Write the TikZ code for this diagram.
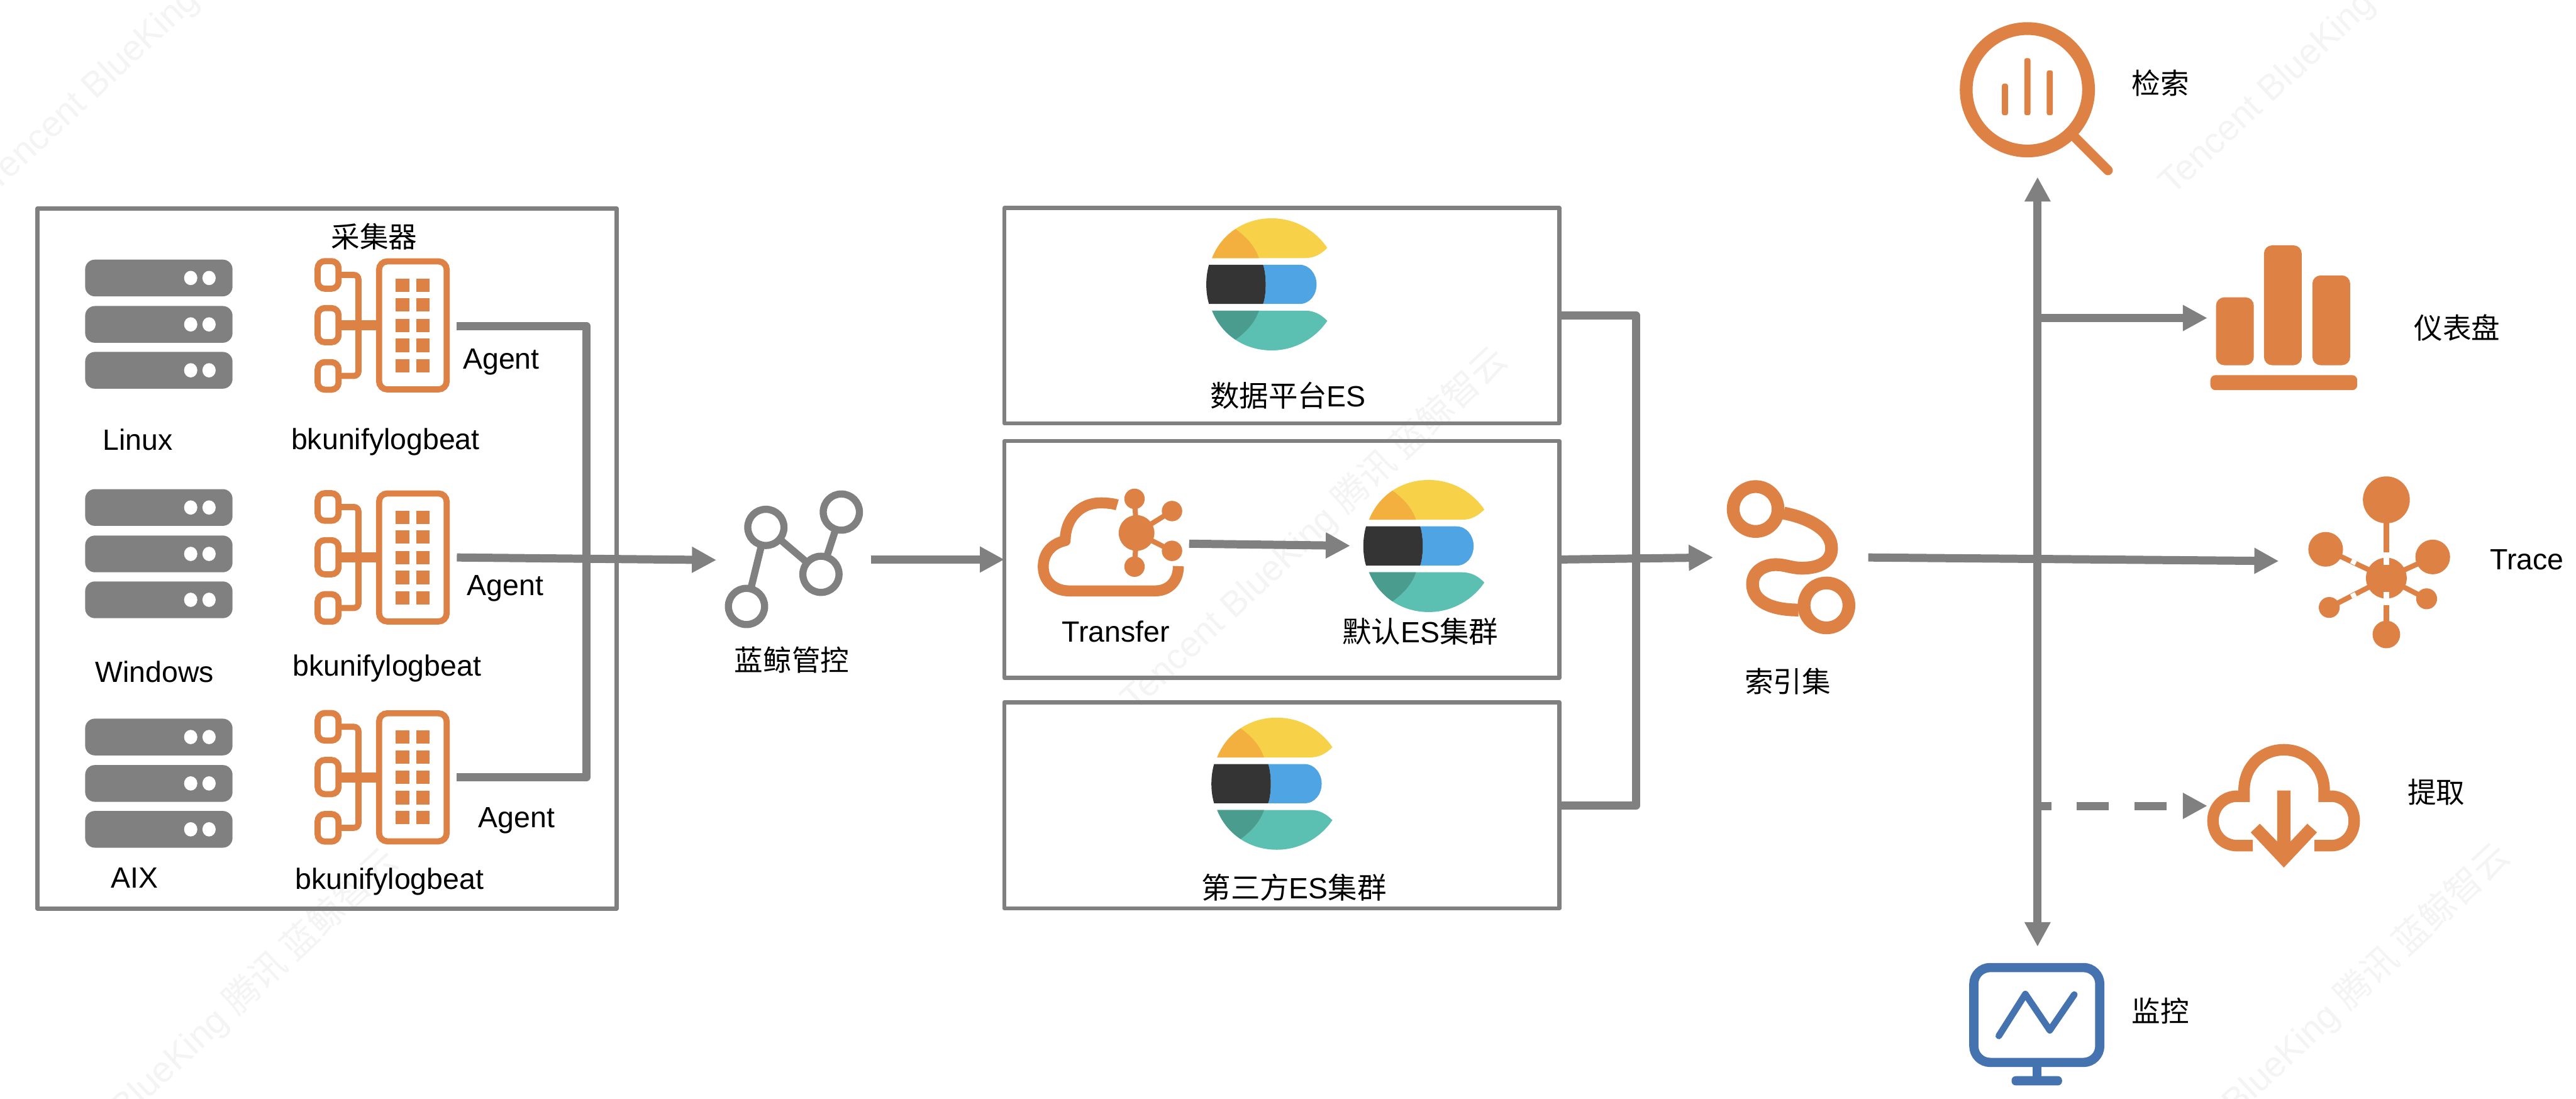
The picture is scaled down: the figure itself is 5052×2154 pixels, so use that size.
\documentclass[tikz,border=0pt]{standalone}
\usepackage{fontspec}
\setmainfont{Liberation Sans}
\newfontfamily\cjk{Noto Sans CJK SC}
\usetikzlibrary{arrows.meta}
\definecolor{gr}{HTML}{808080}
\definecolor{og}{HTML}{DD8244}
\definecolor{bl}{HTML}{4473B0}
\definecolor{wm}{HTML}{F5F4F4}
\definecolor{esyel}{HTML}{F7D147}
\definecolor{esorg}{HTML}{F3B03F}
\definecolor{esdrk}{HTML}{343434}
\definecolor{esblu}{HTML}{4FA5E3}
\definecolor{estea}{HTML}{5BBFB1}
\definecolor{esdte}{HTML}{4A9C8F}
\tikzset{
  x=0.01cm,y=-0.01cm,
  lbl/.style={font=\fontsize{16.3}{19}\selectfont,inner sep=0pt,outer sep=0pt,text=black},
  cjklbl/.style={font=\cjk\fontsize{16}{19}\selectfont,inner sep=0pt,outer sep=0pt,text=black,yshift=-0.05cm},
  wmark/.style={font=\fontsize{20}{24}\selectfont,inner sep=0pt,text=wm,rotate=43,anchor=base west},
  framebox/.style={draw=gr,line width=0.8mm,inner sep=0pt,outer sep=0pt,line join=round},
  tip/.tip={Triangle[length=4.8mm,width=4.8mm]},
  flow/.style={draw=gr,line width=1.6mm,-{tip}},
  plainflow/.style={draw=gr,line width=1.6mm,line join=round},
  ogline/.style={draw=og,line width=1.2mm},
  pics/server/.style={code={
    \foreach \yy in {0,91,181}{
      \fill[gr,rounded corners=1.9mm] (0,\yy) rectangle (289,\yy+72);
      \fill[white] (207,\yy+36) ellipse [x radius=13,y radius=14];
      \fill[white] (243,\yy+36) ellipse [x radius=13,y radius=14];
    }
  }},
  pics/agent/.style={code={
    \draw[ogline,rounded corners=1.4mm] (6,6) rectangle (47,60);
    \draw[ogline,rounded corners=1.4mm] (6,98) rectangle (47,165);
    \draw[ogline,rounded corners=1.4mm] (6,204) rectangle (47,258);
    \draw[ogline,rounded corners=0.9mm] (47,33) -- (86,33) -- (86,231) -- (47,231);
    \draw[og,line width=2mm] (47,132) -- (126,132);
    \draw[ogline,rounded corners=1.6mm] (126.5,6.5) rectangle (259,257.5);
    \foreach \ya/\yb in {40/66,79/105,119/145,158/185,198/224}{
      \fill[og] (159,\ya) rectangle (186,\yb);
      \fill[og] (199,\ya) rectangle (226,\yb);
    }
  }},
  pics/eslogo/.style={code={
    \fill[esyel] (11,78) .. controls (30,30) and (75,0) .. (128,0) .. controls (175,0) and (215,25) .. (237,58) .. controls (225,70) and (212,78) .. (193,78) -- cycle;
    \fill[esorg] (11,78) .. controls (20.5,54) and (36.5,34.5) .. (57,21) .. controls (80,38) and (95,55) .. (103,78) -- cycle;
    \fill[esblu] (111,91) -- (182,91) .. controls (203,91) and (216,110) .. (216,129.5) .. controls (216,150) and (203,168) .. (182,168) -- (111,168) .. controls (118,150) and (118,110) .. (111,91) -- cycle;
    \fill[esdrk] (5,91) -- (111,91) .. controls (118,110) and (118,150) .. (111,168) -- (5,168) .. controls (-2,145) and (-2,115) .. (5,91) -- cycle;
    \fill[estea] (11,181) .. controls (30,229) and (75,259) .. (128,259) .. controls (175,259) and (215,234) .. (237,201) .. controls (225,189) and (212,181) .. (193,181) -- cycle;
    \fill[esdte] (11,181) .. controls (20.5,205) and (36.5,224.5) .. (57,238) .. controls (80,221) and (95,204) .. (103,181) -- cycle;
  }}
}
\begin{document}
\begin{tikzpicture}
\useasboundingbox (0,0) rectangle (5052,2154);
\fill[white] (0,0) rectangle (5052,2154);

% watermark
\begin{scope}
\clip (0,0) rectangle (5052,2154);
\node[wmark] (wm1) at (-8,378) {Tencent BlueKing {\cjk 腾讯 蓝鲸智云}};
\node[wmark] (wm2) at (50,2380) {Tencent BlueKing {\cjk 腾讯 蓝鲸智云}};
\node[wmark] (wm3) at (2225,1397) {Tencent BlueKing {\cjk 腾讯 蓝鲸智云}};
\node[wmark] (wm4) at (4260,385) {Tencent BlueKing {\cjk 腾讯 蓝鲸智云}};
\node[wmark] (wm5) at (4191,2370) {Tencent BlueKing {\cjk 腾讯 蓝鲸智云}};
\end{scope}

% frames
\node[framebox,minimum width=11.35cm,minimum height=13.72cm] (collector) at (641.5,1095) {};
\node[framebox,minimum width=10.88cm,minimum height=4.22cm] (es1) at (2514,619) {};
\node[framebox,minimum width=10.88cm,minimum height=4.64cm] (es2) at (2514,1097) {};
\node[framebox,minimum width=10.88cm,minimum height=4.04cm] (es3) at (2514,1579) {};

% servers and agents
\pic at (167,509) {server};
\pic at (167,959) {server};
\pic at (167,1409) {server};
\pic at (617,506) {agent};
\pic at (617,961) {agent};
\pic at (617,1392) {agent};

% left labels
\node[cjklbl] (lcoll) at (734,459) {采集器};
\node[lbl,anchor=base] (llinux) at (270,882) {Linux};
\node[lbl,anchor=base] (lwin) at (303,1337) {Windows};
\node[lbl,anchor=base] (laix) at (264,1741) {AIX};
\node[lbl,anchor=base] (lbk1) at (756,881) {bkunifylogbeat};
\node[lbl,anchor=base] (lbk2) at (759,1325) {bkunifylogbeat};
\node[lbl,anchor=base] (lbk3) at (764,1743) {bkunifylogbeat};
\node[lbl,anchor=base] (lag1) at (983,723) {Agent};
\node[lbl,anchor=base] (lag2) at (991,1167) {Agent};
\node[lbl,anchor=base] (lag3) at (1013,1623) {Agent};

% agent connectors
\coordinate (a1out) at (896,639);
\coordinate (a2out) at (896,1093);
\coordinate (a3out) at (896,1524);
\coordinate (busr1) at (1150,639);
\coordinate (busr3) at (1150,1524);
\coordinate (ctrlin) at (1405,1098);
\draw[plainflow] (a1out) -- (busr1) -- (busr3) -- (a3out);
\draw[flow] (a2out) -- (ctrlin);

% control icon
\coordinate (c1) at (1502,1034);
\coordinate (c2) at (1650,1004);
\coordinate (c3) at (1610,1126);
\coordinate (c4) at (1464,1189);
\draw[gr,line width=1.4mm] (c4) -- (c1) -- (c3) -- (c2);
\foreach \c in {c1,c2,c3,c4}{\draw[gr,line width=1.4mm,fill=white] (\c) circle (35.5);}
\node[cjklbl] (lctrl) at (1553,1289) {蓝鲸管控};
\coordinate (ctrlout) at (1708,1097);
\draw[flow] (ctrlout) -- (es2.west);

% ES logos
\pic at (2366,428) {eslogo};
\pic at (2674,941) {eslogo};
\pic at (2376,1407) {eslogo};
\node[lbl,yshift=-0.03cm] (les1) at (2526,773) {{\cjk 数据平台}ES};
\node[lbl,yshift=-0.03cm] (les2) at (2785,1235) {{\cjk 默认}ES{\cjk 集群}};
\node[lbl,yshift=-0.03cm] (les3) at (2538,1737) {{\cjk 第三方}ES{\cjk 集群}};
\node[lbl] (ltr) at (2188,1238) {Transfer};

% transfer icon
\draw[og,line width=2.15mm,line join=round] (2191,990) .. controls (2182,987) and (2170,986) .. (2159,986)
  .. controls (2115,986) and (2089,1020) .. (2089,1060)
  .. controls (2062,1066) and (2046,1085) .. (2046,1111)
  .. controls (2046,1140) and (2068,1158.5) .. (2097,1158.5)
  -- (2265.5,1158.5)
  .. controls (2292,1158.5) and (2311,1140) .. (2311,1110);
\coordinate (hub) at (2229,1045);
\foreach \p in {(2225,978),(2225,1111),(2298.5,1002),(2298.5,1080)}{
  \draw[og,line width=1mm] (hub) -- \p;
  \fill[og] \p circle (20);
}
\fill[og] (hub) circle (35);
\coordinate (trout) at (2332,1066);
\coordinate (esin) at (2648,1070);
\draw[flow] (trout) -- (esin);

% ES to index set
\coordinate (vbus1) at (3209,619);
\coordinate (vbus3) at (3209,1579);
\coordinate (idxin) at (3360,1093);
\draw[plainflow] (es1.east) -- (vbus1) -- (vbus3) -- (es3.east);
\draw[flow] (es2.east) -- (idxin);

% index set icon
\draw[og,line width=2.5mm] (3498,1006) .. controls (3550,1016) and (3592,1040) .. (3592,1075)
  .. controls (3592,1100) and (3570,1114) .. (3533,1114)
  .. controls (3515,1114) and (3500,1107) .. (3483,1107)
  .. controls (3460,1107) and (3437,1120) .. (3437,1145)
  .. controls (3437,1180) and (3475,1196) .. (3527,1196);
\draw[og,line width=2.5mm] (3443,998) circle (44);
\draw[og,line width=2.5mm] (3582,1187) circle (44);
\node[cjklbl] (lidx) at (3506,1331) {索引集};

% output connectors
\coordinate (idxout) at (3664,1093);
\coordinate (traceIn) at (4469,1100);
\coordinate (searchIn) at (3996,347);
\coordinate (monIn) at (3996,1856);
\coordinate (dashFrom) at (3996,623.5);
\coordinate (dashIn) at (4329,623.5);
\coordinate (extFrom) at (3996,1580);
\coordinate (extIn) at (4329,1580);
\draw[flow] (idxout) -- (traceIn);
\draw[draw=gr,line width=1.6mm,{tip}-{tip}] (monIn) -- (searchIn);
\draw[flow] (dashFrom) -- (dashIn);
\draw[flow,dash pattern=on 6.3mm off 5mm,dash phase=3.6mm] (extFrom) -- (extIn);

% search icon
\draw[og,line width=2.5mm] (3976,176) circle (120);
\draw[og,line width=1.9mm,line cap=round] (4060,260) -- (4134,334);
\fill[og,rounded corners=0.4mm] (3926,164) rectangle (3938,226);
\fill[og,rounded corners=0.4mm] (3970,114) rectangle (3982,226);
\fill[og,rounded corners=0.4mm] (4014,138) rectangle (4026,226);
\node[cjklbl] (lsearch) at (4237,158) {检索};

% dashboard icon
\fill[og,rounded corners=1.6mm] (4346,583) rectangle (4420,716);
\fill[og,rounded corners=1.6mm] (4440,481) rectangle (4514,716);
\fill[og,rounded corners=1.6mm] (4535,540) rectangle (4609,716);
\fill[og,rounded corners=1mm] (4335,735.5) rectangle (4623,765);
\node[cjklbl] (ldash) at (4819,638) {仪表盘};

% trace icon
\coordinate (tc) at (4680,1133.5);
\foreach \p/\r in {(4680,980)/46,(4561,1077)/34,(4771,1092)/34,(4568,1191)/20.5,(4759,1174)/20.5,(4680,1244)/27}{
  \draw[og,line width=1mm] (tc) -- \p;
  \fill[og] \p circle (\r);
}
\fill[og] (tc) circle (40);
\fill[white] (4675,1083) rectangle (4685,1107);
\fill[white] (4675,1161) rectangle (4685,1186);
\draw[white,line width=0.9mm] (4611,1100) -- (4620,1104.5);
\draw[white,line width=0.9mm] (4611,1169.5) -- (4620,1165);
\node[lbl] (ltrace) at (4956,1097) {Trace};

% extract icon
\draw[og,line width=2.25mm,line join=miter] (4418,1658) -- (4388,1658)
  .. controls (4360,1658) and (4340,1637) .. (4340,1609)
  .. controls (4340,1583) and (4360,1561) .. (4388,1561) -- (4401,1561) -- (4401,1549)
  .. controls (4401,1503) and (4436,1470) .. (4479,1470)
  .. controls (4522,1470) and (4558,1503) .. (4558,1549) -- (4558,1561) -- (4571,1561)
  .. controls (4598,1561) and (4617,1583) .. (4617,1609)
  .. controls (4617,1637) and (4598,1658) .. (4571,1658) -- (4539,1658);
\fill[og] (4466,1550) -- (4492,1550) -- (4492,1650) -- (4525,1615) -- (4544,1632) -- (4479,1701) -- (4414,1632) -- (4432,1615) -- (4466,1650) -- cycle;
\node[cjklbl] (lext) at (4778,1548) {提取};

% monitor icon
\draw[bl,line width=1.8mm,rounded corners=3.2mm] (3871,1897) rectangle (4118,2083);
\fill[bl] (3986,2091) rectangle (4003,2111);
\fill[bl,rounded corners=0.8mm] (3945,2110) rectangle (4044,2128);
\draw[bl,line width=1.3mm,line cap=round,line join=round] (3920,2031) -- (3972,1949) -- (4020,2020) -- (4068,1950);
\node[cjklbl] (lmon) at (4237,1977) {监控};
\end{tikzpicture}
\end{document}
